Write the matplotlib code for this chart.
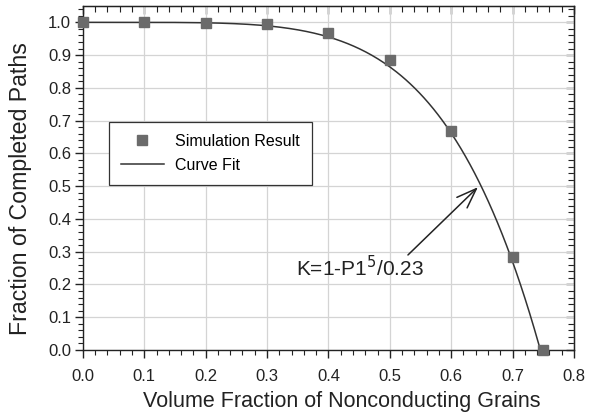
import numpy as np
import matplotlib
matplotlib.use("Agg")
import matplotlib.pyplot as plt
from matplotlib.ticker import MultipleLocator

plt.rcParams['font.family'] = ['Liberation Sans', 'DejaVu Sans']

# Simulation data
vol_frac = [0.0, 0.1, 0.2, 0.3, 0.4, 0.5, 0.6, 0.7, 0.75]
completed = [1.0, 1.0, 0.999, 0.995, 0.968, 0.885, 0.668, 0.285, 0.0]

# Curve fit parameters, as stated in the annotation K = 1 - P^5/0.23
fit_exp = 5
fit_div = 0.23

x_ticks = [0.0, 0.1, 0.2, 0.3, 0.4, 0.5, 0.6, 0.7, 0.8]
y_ticks = [0.0, 0.1, 0.2, 0.3, 0.4, 0.5, 0.6, 0.7, 0.8, 0.9, 1.0]

fig = plt.figure(figsize=(5.96, 4.17), dpi=100)
ax = fig.add_axes([0.139, 0.1607, 0.824, 0.825])

p_end = fit_div ** (1.0 / fit_exp)
p = np.linspace(0, p_end, 300)
k = 1 - p ** fit_exp / fit_div

ax.plot(p, k, color='#333333', lw=1.1, label='Curve Fit', zorder=3)
ax.plot(vol_frac, completed, 's', color='#6b6b6b', ms=7, mec='#6b6b6b',
        label='Simulation Result', zorder=4, clip_on=False)

ax.set_xlim(0, 0.8)
ax.set_ylim(0, 1.05)
ax.set_xticks(x_ticks)
ax.set_xticklabels([f"{v:.1f}" for v in x_ticks])
ax.set_yticks(y_ticks)
ax.set_yticklabels([f"{v:.1f}" for v in y_ticks])
ax.xaxis.set_minor_locator(MultipleLocator(0.02))
ax.yaxis.set_minor_locator(MultipleLocator(0.02))

ax.grid(True, which='major', color='#d4d4d4', lw=0.9, zorder=0)
ax.set_axisbelow(True)

ax.tick_params(which='both', direction='out', top=False, right=False,
               colors='#222222', labelsize=12, labelcolor='#222222')
ax.tick_params(axis='x', which='major', length=6, width=1.0, pad=8)
ax.tick_params(axis='y', which='major', length=5.5, width=1.0, pad=3)
ax.tick_params(which='minor', length=3.5, width=0.8)

# inward ticks on top/right
ax2 = ax.secondary_xaxis('top')
ax2.xaxis.set_major_locator(MultipleLocator(0.1))
ax2.xaxis.set_minor_locator(MultipleLocator(0.02))
ax2.tick_params(which='both', direction='in', labeltop=False, colors='#222222')
ax2.tick_params(which='major', length=6, width=1.0)
ax2.tick_params(which='minor', length=4, width=0.8)
ax3 = ax.secondary_yaxis('right')
ax3.yaxis.set_major_locator(MultipleLocator(0.1))
ax3.yaxis.set_minor_locator(MultipleLocator(0.02))
ax3.tick_params(which='both', direction='in', labelright=False, colors='#222222')
ax3.tick_params(which='major', length=6, width=1.0)
ax3.tick_params(which='minor', length=4, width=0.8)

for s in ax.spines.values():
    s.set_color('#222222')
    s.set_linewidth(1.0)

ax.set_xlabel('Volume Fraction of Nonconducting Grains', fontsize=15.5, color='#222222')
ax.xaxis.set_label_coords(0.527, -0.118)
ax.set_ylabel('Fraction of Completed Paths', fontsize=16.7, color='#222222')
ax.yaxis.set_label_coords(-0.103, 0.468)

handles, labels = ax.get_legend_handles_labels()
leg = ax.legend(handles[::-1], labels[::-1], loc='upper left',
                bbox_to_anchor=(0.053, 0.663), borderaxespad=0, fontsize=11.5,
                frameon=True, fancybox=False, edgecolor='#333333', framealpha=1,
                handlelength=2.7, handleheight=1.0, handletextpad=0.7,
                borderpad=0.75, labelspacing=0.5)
leg.get_frame().set_linewidth(0.9)

ax.annotate('', xy=(0.6436, 0.497), xytext=(0.5296, 0.29),
            arrowprops=dict(arrowstyle='->,head_length=0.6,head_width=0.22',
                            color='#222222', lw=1.1,
                            mutation_scale=24, shrinkA=0, shrinkB=0))
ax.text(0.347, 0.2256, 'K=1-P1$^5$/0.23', fontsize=15, color='#222222',
        ha='left', va='baseline')

fig.savefig('out.png', dpi=100)
